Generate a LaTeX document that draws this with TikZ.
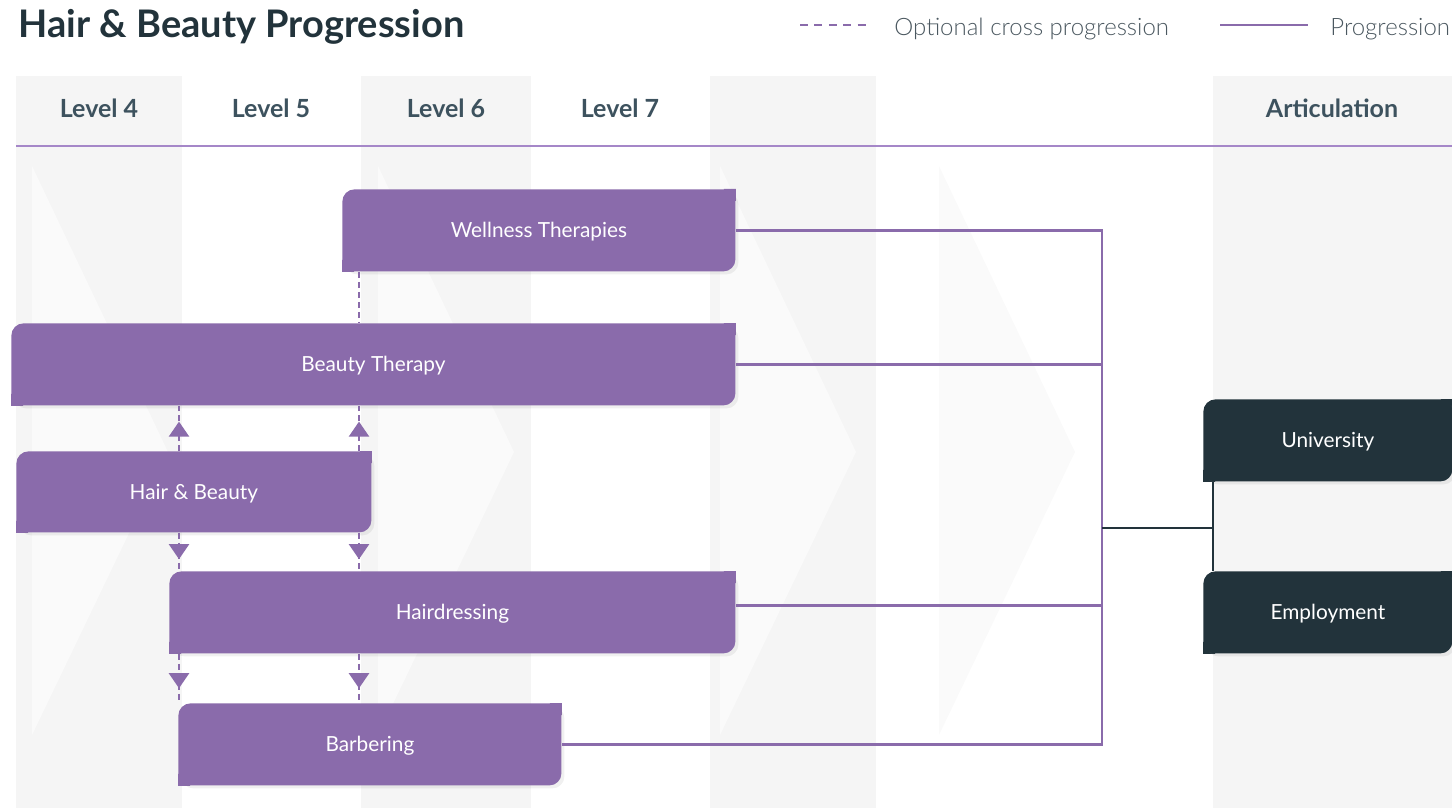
\documentclass[tikz,border=0pt]{standalone}
\usepackage{fontspec}
\setmainfont{Lato}
\newfontfamily\lightfont{Lato Light}
\usepackage{xcolor}
\usetikzlibrary{arrows.meta, positioning, shadows, decorations.markings}
\definecolor{hbpurple}{RGB}{138,107,171}
\definecolor{hbdark}{RGB}{34,51,59}
\definecolor{hbhead}{RGB}{61,82,94}
\definecolor{hbband}{RGB}{245,245,245}
\definecolor{hbchev}{RGB}{250,250,250}
\definecolor{hbrule}{RGB}{165,135,200}
\definecolor{hblegend}{RGB}{75,88,96}

\tikzset{
  boxbase/.style={rounded corners=6pt, inner sep=0pt, anchor=north west, text=white,
    font=\fontsize{10.4}{12}\selectfont, text height=9.5pt, text depth=2pt, minimum height=41pt,
    drop shadow={shadow xshift=1.5pt, shadow yshift=-1.5pt, opacity=0.12}},
  progbox/.style={boxbase, fill=hbpurple,
    append after command={\pgfextra{\fill[hbpurple, sharp corners]
      (\tikzlastnode.north east) rectangle ++(-6pt,-6pt)
      (\tikzlastnode.south west) rectangle ++(6pt,6pt);}}},
  artbox/.style={boxbase, fill=hbdark,
    append after command={\pgfextra{\fill[hbdark, sharp corners]
      (\tikzlastnode.north east) rectangle ++(-6pt,-6pt)
      (\tikzlastnode.south west) rectangle ++(6pt,6pt);}}},
  levellabel/.style={inner sep=0pt, text=hbhead, font=\bfseries\fontsize{12.5}{14}\selectfont},
  legendtext/.style={inner sep=0pt, anchor=west, yshift=-2pt, text=hblegend, font=\lightfont\fontsize{12}{14}\selectfont},
  progline/.style={draw=hbpurple, line width=1.1pt},
  artline/.style={draw=hbdark, line width=1.1pt},
  crossline/.style={draw=hbpurple, line width=1.1pt, dash pattern=on 3pt off 2pt},
  midarrow/.style={postaction={decorate}, decoration={markings,
    mark=at position #1 with {\arrow[hbpurple]{Triangle[width=10pt,length=7.5pt]}}}}
}

\begin{document}
\begin{tikzpicture}[x=0.5pt, y=-0.5pt]
  \useasboundingbox (0,0) rectangle (1452,808);

  % column bands and chevrons
  \foreach \l/\r in {16/182, 361/531, 710/876, 1213/1452}
    \fill[hbband] (\l,76) rectangle (\r,808);
  \foreach \x in {32, 378, 720, 939}
    \fill[hbchev] (\x,166) -- (\x+136,452) -- (\x,735) -- cycle;
  \draw[hbrule, line width=0.6pt] (16,146) -- (1452,146);

  % title and legend
  \node[inner sep=0pt, anchor=base west, text=hbdark, font=\bfseries\fontsize{19}{23}\selectfont]
    (title) at (18,38) {Hair \& Beauty Progression};
  \coordinate (dashstart) at (800,25);
  \coordinate[right=34pt of dashstart] (dashend);
  \node[legendtext, right=13pt of dashend] (legcross) {Optional cross progression};
  \draw[crossline, dash pattern=on 4pt off 3.2pt] (dashstart) -- (dashend);
  \coordinate (solidstart) at (1220,25);
  \coordinate[right=44pt of solidstart] (solidend);
  \node[legendtext, right=11pt of solidend] (legprog) {Progression};
  \draw[progline] (solidstart) -- (solidend);

  % level headings
  \node[levellabel] (lvlfour) at (99,108) {Level 4};
  \node[levellabel] (lvlfive) at (271,108) {Level 5};
  \node[levellabel] (lvlsix) at (446,108) {Level 6};
  \node[levellabel] (lvlseven) at (620,108) {Level 7};
  \node[levellabel] (artic) at (1332,108) {Articulation};

  % courses
  \node[progbox, minimum width=196.5pt] (wellness) at (342,189) {Wellness Therapies};
  \node[progbox, minimum width=362pt] (beauty) at (11,323) {Beauty Therapy};
  \node[progbox, minimum width=177.5pt, minimum height=40.5pt] (hairbeauty) at (16,451) {Hair \& Beauty};
  \node[progbox, minimum width=283pt] (hairdressing) at (169,571) {Hairdressing};
  \node[progbox, minimum width=191.5pt] (barbering) at (178,703) {Barbering};
  \node[artbox, minimum width=124.5pt] (university) at (1203,399) {University};
  \node[artbox, minimum width=124.5pt] (employment) at (1203,571) {Employment};

  % cross progression
  \coordinate (colA) at (179,0);
  \coordinate (colB) at (359,0);
  \draw[crossline] (wellness.south -| colB) -- (beauty.north -| colB);
  \draw[crossline, midarrow=0.65] (hairbeauty.north -| colA) -- (beauty.south -| colA);
  \draw[crossline, midarrow=0.65] (hairbeauty.north -| colB) -- (beauty.south -| colB);
  \draw[crossline, midarrow=0.69] (hairbeauty.south -| colA) -- (hairdressing.north -| colA);
  \draw[crossline, midarrow=0.69] (hairbeauty.south -| colB) -- (hairdressing.north -| colB);
  \draw[crossline, midarrow=0.7] (hairdressing.south -| colA) -- (barbering.north -| colA);
  \draw[crossline, midarrow=0.7] (hairdressing.south -| colB) -- (barbering.north -| colB);

  % progression to articulation
  \coordinate (spine) at (1102,0);
  \coordinate (hub) at (1102,528);
  \coordinate (unistem) at ([xshift=5pt]university.south west);
  \draw[progline] (wellness.east) -| (barbering.east -| spine) -- (barbering.east);
  \draw[progline] (beauty.east) -- (beauty.east -| spine);
  \draw[progline] ([yshift=3.5pt]hairdressing.east) -- ([yshift=3.5pt]hairdressing.east -| spine);
  \draw[artline] (hub) -- (hub -| unistem);
  \draw[artline] (unistem) -- (employment.north -| unistem);
\end{tikzpicture}
\end{document}
